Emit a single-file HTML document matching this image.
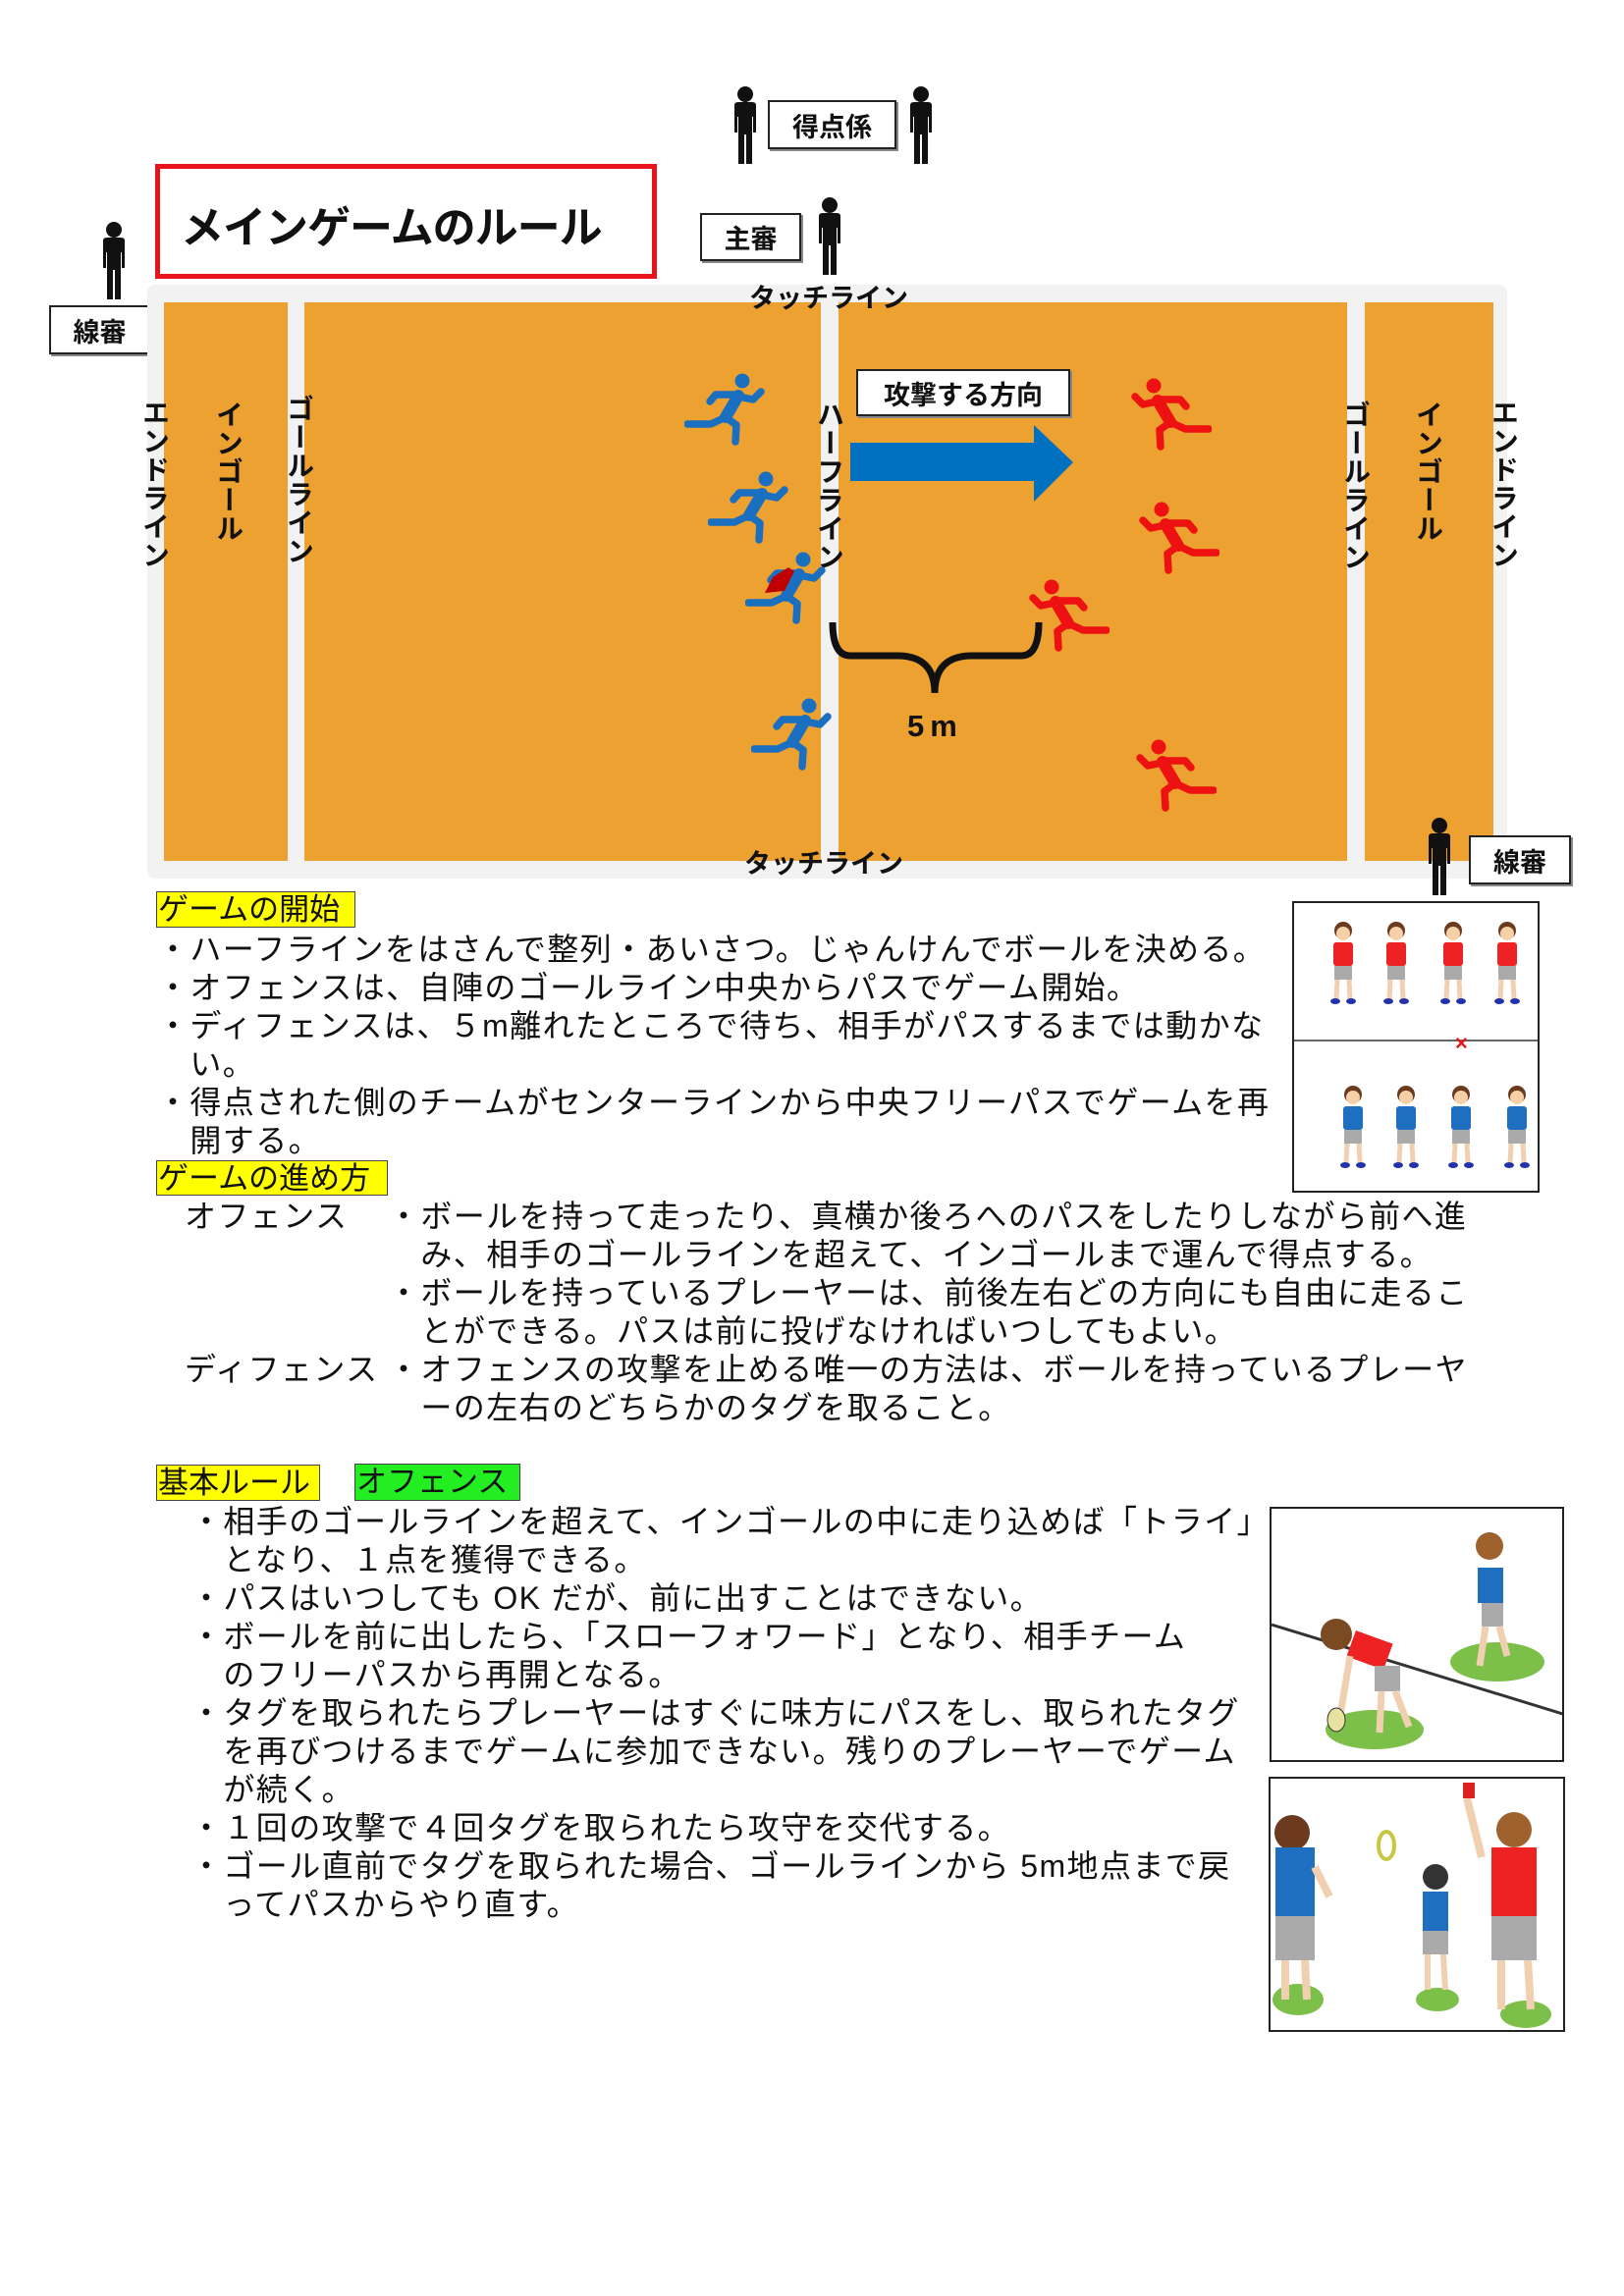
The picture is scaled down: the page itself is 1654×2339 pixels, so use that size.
<!DOCTYPE html>
<html><head><meta charset="utf-8">
<style>
html,body{margin:0;padding:0;background:#fff;}
body{width:1654px;height:2339px;position:relative;overflow:hidden;font-family:"Liberation Sans","Noto Sans CJK JP",sans-serif;color:#111;}
.a{position:absolute;}
.box{position:absolute;border:2px solid #222;background:#fff;font-weight:bold;font-size:27px;display:flex;align-items:center;justify-content:center;box-sizing:border-box;box-shadow:2px 2px 0 #888;}
.vt{position:absolute;writing-mode:vertical-rl;font-size:28px;font-weight:bold;line-height:1;letter-spacing:1px;}
.ln{position:absolute;white-space:nowrap;font-size:32px;line-height:39px;letter-spacing:1.4px;}
.lab{position:absolute;font-size:31px;line-height:36px;border:1.5px solid #444;box-sizing:border-box;padding-left:1px;white-space:nowrap;}
.bl{color:#1a6fc0;}
.rd{color:#ee1111;}
</style></head><body>
<svg width="0" height="0" style="position:absolute">
<defs>
<g id="person">
<circle cx="20" cy="9" r="8"/>
<path d="M9 20 Q9 17 13 17 L27 17 Q31 17 31 20 L31 48 L28 48 L28 32 L27 32 L27 80 L21 80 L21 50 L19 50 L19 80 L13 80 L13 32 L12 32 L12 48 L9 48 Z"/>
</g>
<g id="runner">
<circle cx="59" cy="8" r="7.5" fill="currentColor"/>
<g fill="none" stroke="currentColor" stroke-linecap="round" stroke-linejoin="round">
<path d="M55 23 L42 45" stroke-width="12"/>
<path d="M55 24 L70 27 L78 19 M52 22 L32 22 L26 29 M42 45 L27 52 L3 52 M42 45 L53 53 L52 70" stroke-width="7.5"/>
</g>
</g>
<g id="kid">
<circle cx="20" cy="10" r="9" fill="#6b3a1f"/>
<circle cx="20" cy="13" r="7" fill="#f6d1a8"/>
<rect x="10" y="22" width="20" height="24" rx="3"/>
<rect x="11" y="46" width="18" height="14" fill="#aaa"/>
<path d="M14 60 L13 80 M26 60 L27 80" stroke="#f0d0b0" stroke-width="5"/>
<ellipse cx="12" cy="82" rx="5" ry="3" fill="#2233aa"/>
<ellipse cx="28" cy="82" rx="5" ry="3" fill="#2233aa"/>
</g>
</defs>
</svg>

<!-- officials -->
<svg class="a" style="left:739px;top:87px" width="40" height="82"><use href="#person" fill="#111"/></svg>
<div class="box" style="left:782px;top:102px;width:131px;height:50px;">得点係</div>
<svg class="a" style="left:918px;top:87px" width="40" height="82"><use href="#person" fill="#111"/></svg>

<div class="a" style="left:158px;top:167px;width:511px;height:117px;border:5px solid #e8131b;box-sizing:border-box;"></div>
<div class="a" style="left:184px;top:200px;font-size:44px;font-weight:bold;line-height:66px;white-space:nowrap;letter-spacing:-1px;">メインゲームのルール</div>

<div class="box" style="left:713px;top:217px;width:103px;height:49px;">主審</div>
<svg class="a" style="left:825px;top:200px" width="40" height="82"><use href="#person" fill="#111"/></svg>

<svg class="a" style="left:96px;top:225px" width="40" height="82"><use href="#person" fill="#111"/></svg>
<div class="box" style="left:50px;top:311px;width:103px;height:50px;">線審</div>

<!-- field -->
<div class="a" style="left:150px;top:290px;width:1385px;height:605px;background:#f2f2f2;border-radius:8px;"></div>
<div class="a" style="left:167px;top:308px;width:126px;height:569px;background:#eca130;"></div>
<div class="a" style="left:310px;top:308px;width:526px;height:569px;background:#eca130;"></div>
<div class="a" style="left:854px;top:308px;width:518px;height:569px;background:#eca130;"></div>
<div class="a" style="left:1390px;top:308px;width:131px;height:569px;background:#eca130;"></div>

<div class="a" style="left:763px;top:282px;font-size:27px;font-weight:bold;white-space:nowrap;">タッチライン</div>
<div class="a" style="left:758px;top:858px;font-size:27px;font-weight:bold;white-space:nowrap;">タッチライン</div>

<div class="vt" style="left:143px;top:406px;">エンドライン</div>
<div class="vt" style="left:218px;top:408px;">インゴール</div>
<div class="vt" style="left:290px;top:402px;">ゴールライン</div>
<div class="vt" style="left:830px;top:408px;">ハーフライン</div>
<div class="vt" style="left:1366px;top:408px;">ゴールライン</div>
<div class="vt" style="left:1440px;top:408px;">インゴール</div>
<div class="vt" style="left:1517px;top:406px;">エンドライン</div>

<div class="box" style="left:872px;top:376px;width:218px;height:48px;">攻撃する方向</div>
<svg class="a" style="left:860px;top:425px" width="240" height="100">
<polygon points="6,26 193,26 193,8 233,46 193,86 193,65 6,65" fill="#0070c0"/>
</svg>

<svg class="a" style="left:836px;top:620px" width="240" height="100">
<path d="M12 14 Q12 48 30 48 L78 48 Q116 48 116 86 Q116 48 154 48 L204 48 Q222 48 222 14" fill="none" stroke="#111" stroke-width="7"/>
</svg>
<div class="a" style="left:924px;top:722px;font-size:31px;font-weight:bold;">5<span style="margin-left:6px">m</span></div>

<!-- runners -->
<svg class="a bl" style="left:697px;top:380px" width="82" height="75" viewBox="0 0 82 75"><use href="#runner"/></svg>
<svg class="a bl" style="left:721px;top:480px" width="82" height="75" viewBox="0 0 82 75"><use href="#runner"/></svg>
<svg class="a bl" style="left:759px;top:562px" width="82" height="75" viewBox="0 0 82 75"><use href="#runner"/><path d="M28 26 L44 16 L50 20 L40 40 L20 42 Z" fill="#c00000"/></svg>
<svg class="a bl" style="left:765px;top:711px" width="82" height="75" viewBox="0 0 82 75"><use href="#runner"/></svg>
<svg class="a rd" style="left:1152px;top:385px" width="82" height="75" viewBox="0 0 82 75"><g transform="translate(82,0) scale(-1,1)"><use href="#runner"/></g></svg>
<svg class="a rd" style="left:1160px;top:511px" width="82" height="75" viewBox="0 0 82 75"><g transform="translate(82,0) scale(-1,1)"><use href="#runner"/></g></svg>
<svg class="a rd" style="left:1048px;top:590px" width="82" height="75" viewBox="0 0 82 75"><g transform="translate(82,0) scale(-1,1)"><use href="#runner"/></g></svg>
<svg class="a rd" style="left:1157px;top:753px" width="82" height="75" viewBox="0 0 82 75"><g transform="translate(82,0) scale(-1,1)"><use href="#runner"/></g></svg>

<svg class="a" style="left:1446px;top:832px" width="40" height="82"><use href="#person" fill="#111"/></svg>
<div class="box" style="left:1496px;top:851px;width:104px;height:50px;">線審</div>

<!-- text section 1 -->
<div class="lab" style="left:159px;top:908px;width:203px;height:37px;background:#ffff00;">ゲームの開始</div>
<div class="ln" style="left:160px;top:948px;">・ハーフラインをはさんで整列・あいさつ。じゃんけんでボールを決める。</div>
<div class="ln" style="left:160px;top:987px;">・オフェンスは、自陣のゴールライン中央からパスでゲーム開始。</div>
<div class="ln" style="left:160px;top:1026px;">・ディフェンスは、５m離れたところで待ち、相手がパスするまでは動かな</div>
<div class="ln" style="left:160px;top:1065px;">　い。</div>
<div class="ln" style="left:160px;top:1104px;">・得点された側のチームがセンターラインから中央フリーパスでゲームを再</div>
<div class="ln" style="left:160px;top:1143px;">　開する。</div>

<div class="a" style="left:1316px;top:918px;width:252px;height:297px;border:2px solid #222;box-sizing:border-box;background:#fff;"></div>
<div class="a" style="left:1318px;top:1059px;width:248px;height:2px;background:#666;"></div>
<div class="a" style="left:1482px;top:1050px;color:#e8131b;font-size:22px;font-weight:bold;">×</div>
<svg class="a" style="left:1340px;top:938px" width="220" height="110">
<use href="#kid" fill="#ee2222" x="8"/><use href="#kid" fill="#ee2222" x="62"/><use href="#kid" fill="#ee2222" x="120"/><use href="#kid" fill="#ee2222" x="175"/>
</svg>
<svg class="a" style="left:1340px;top:1105px" width="220" height="110">
<use href="#kid" fill="#1f6fc0" x="18"/><use href="#kid" fill="#1f6fc0" x="72"/><use href="#kid" fill="#1f6fc0" x="128"/><use href="#kid" fill="#1f6fc0" x="185"/>
</svg>

<div class="lab" style="left:159px;top:1182px;width:236px;height:36px;background:#ffff00;">ゲームの進め方</div>
<div class="ln" style="left:188px;top:1220px;">オフェンス</div>
<div class="ln" style="left:395px;top:1220px;">・ボールを持って走ったり、真横か後ろへのパスをしたりしながら前へ進</div>
<div class="ln" style="left:395px;top:1259px;">　み、相手のゴールラインを超えて、インゴールまで運んで得点する。</div>
<div class="ln" style="left:395px;top:1298px;">・ボールを持っているプレーヤーは、前後左右どの方向にも自由に走るこ</div>
<div class="ln" style="left:395px;top:1337px;">　とができる。パスは前に投げなければいつしてもよい。</div>
<div class="ln" style="left:188px;top:1376px;">ディフェンス</div>
<div class="ln" style="left:395px;top:1376px;">・オフェンスの攻撃を止める唯一の方法は、ボールを持っているプレーヤ</div>
<div class="ln" style="left:395px;top:1415px;">　ーの左右のどちらかのタグを取ること。</div>

<div class="lab" style="left:159px;top:1492px;width:167px;height:37px;background:#ffff00;">基本ルール</div>
<div class="lab" style="left:361px;top:1491px;width:169px;height:38px;background:#22ee22;">オフェンス</div>
<div class="ln" style="left:194px;top:1531px;">・相手のゴールラインを超えて、インゴールの中に走り込めば「トライ」</div>
<div class="ln" style="left:194px;top:1570px;">　となり、１点を獲得できる。</div>
<div class="ln" style="left:194px;top:1609px;">・パスはいつしても OK だが、前に出すことはできない。</div>
<div class="ln" style="left:194px;top:1648px;">・ボールを前に出したら、「スローフォワード」となり、相手チーム</div>
<div class="ln" style="left:194px;top:1687px;">　のフリーパスから再開となる。</div>
<div class="ln" style="left:194px;top:1726px;">・タグを取られたらプレーヤーはすぐに味方にパスをし、取られたタグ</div>
<div class="ln" style="left:194px;top:1765px;">　を再びつけるまでゲームに参加できない。残りのプレーヤーでゲーム</div>
<div class="ln" style="left:194px;top:1804px;">　が続く。</div>
<div class="ln" style="left:194px;top:1843px;">・１回の攻撃で４回タグを取られたら攻守を交代する。</div>
<div class="ln" style="left:194px;top:1882px;">・ゴール直前でタグを取られた場合、ゴールラインから 5m地点まで戻</div>
<div class="ln" style="left:194px;top:1921px;">　ってパスからやり直す。</div>

<!-- picture 2 -->
<div class="a" style="left:1293px;top:1535px;width:300px;height:260px;border:2px solid #222;box-sizing:border-box;background:#fff;overflow:hidden;">
<svg width="300" height="260">
<line x1="0" y1="118" x2="300" y2="210" stroke="#333" stroke-width="3"/>
<ellipse cx="230" cy="156" rx="48" ry="20" fill="#7cc04a"/>
<ellipse cx="105" cy="225" rx="50" ry="20" fill="#7cc04a"/>
<rect x="210" y="60" width="26" height="36" fill="#1f6fc0"/>
<circle cx="222" cy="38" r="14" fill="#a0622d"/>
<rect x="214" y="96" width="22" height="24" fill="#aaa"/>
<path d="M218 120 L212 160 M232 120 L240 150" stroke="#f0d0b0" stroke-width="7"/>
<rect x="80" y="130" width="40" height="28" fill="#ee2222" transform="rotate(20 100 144)"/>
<circle cx="66" cy="128" r="16" fill="#7a4a22"/>
<rect x="105" y="160" width="26" height="26" fill="#aaa"/>
<path d="M112 186 L110 228 M126 186 L140 222 M80 150 L70 210" stroke="#f0d0b0" stroke-width="7"/>
<ellipse cx="66" cy="215" rx="9" ry="12" fill="#e8e2a0" stroke="#333"/>
</svg></div>

<!-- picture 3 -->
<div class="a" style="left:1292px;top:1810px;width:302px;height:260px;border:2px solid #222;box-sizing:border-box;background:#fff;overflow:hidden;">
<svg width="302" height="260">
<ellipse cx="28" cy="225" rx="26" ry="16" fill="#7cc04a"/>
<ellipse cx="170" cy="225" rx="22" ry="12" fill="#7cc04a"/>
<ellipse cx="260" cy="240" rx="26" ry="14" fill="#7cc04a"/>
<circle cx="22" cy="55" r="18" fill="#6b3a1f"/>
<rect x="5" y="70" width="40" height="70" fill="#1f6fc0"/>
<rect x="5" y="140" width="40" height="45" fill="#aaa"/>
<path d="M15 185 L15 225 M35 185 L37 225 M45 90 L60 120" stroke="#f0d0b0" stroke-width="8"/>
<ellipse cx="118" cy="68" rx="8" ry="14" fill="none" stroke="#c8c840" stroke-width="4"/>
<circle cx="168" cy="100" r="13" fill="#333"/>
<rect x="155" y="115" width="26" height="40" fill="#1f6fc0"/>
<rect x="155" y="155" width="26" height="24" fill="#aaa"/>
<path d="M160 179 L160 215 M176 179 L178 215" stroke="#f0d0b0" stroke-width="6"/>
<circle cx="248" cy="52" r="18" fill="#a0622d"/>
<rect x="225" y="70" width="46" height="70" fill="#ee2222"/>
<rect x="225" y="140" width="46" height="45" fill="#aaa"/>
<path d="M215 80 L200 20 M235 185 L235 235 M262 185 L265 235" stroke="#f0d0b0" stroke-width="8"/>
<rect x="196" y="4" width="12" height="16" fill="#dd2222"/>
</svg></div>
</body></html>
